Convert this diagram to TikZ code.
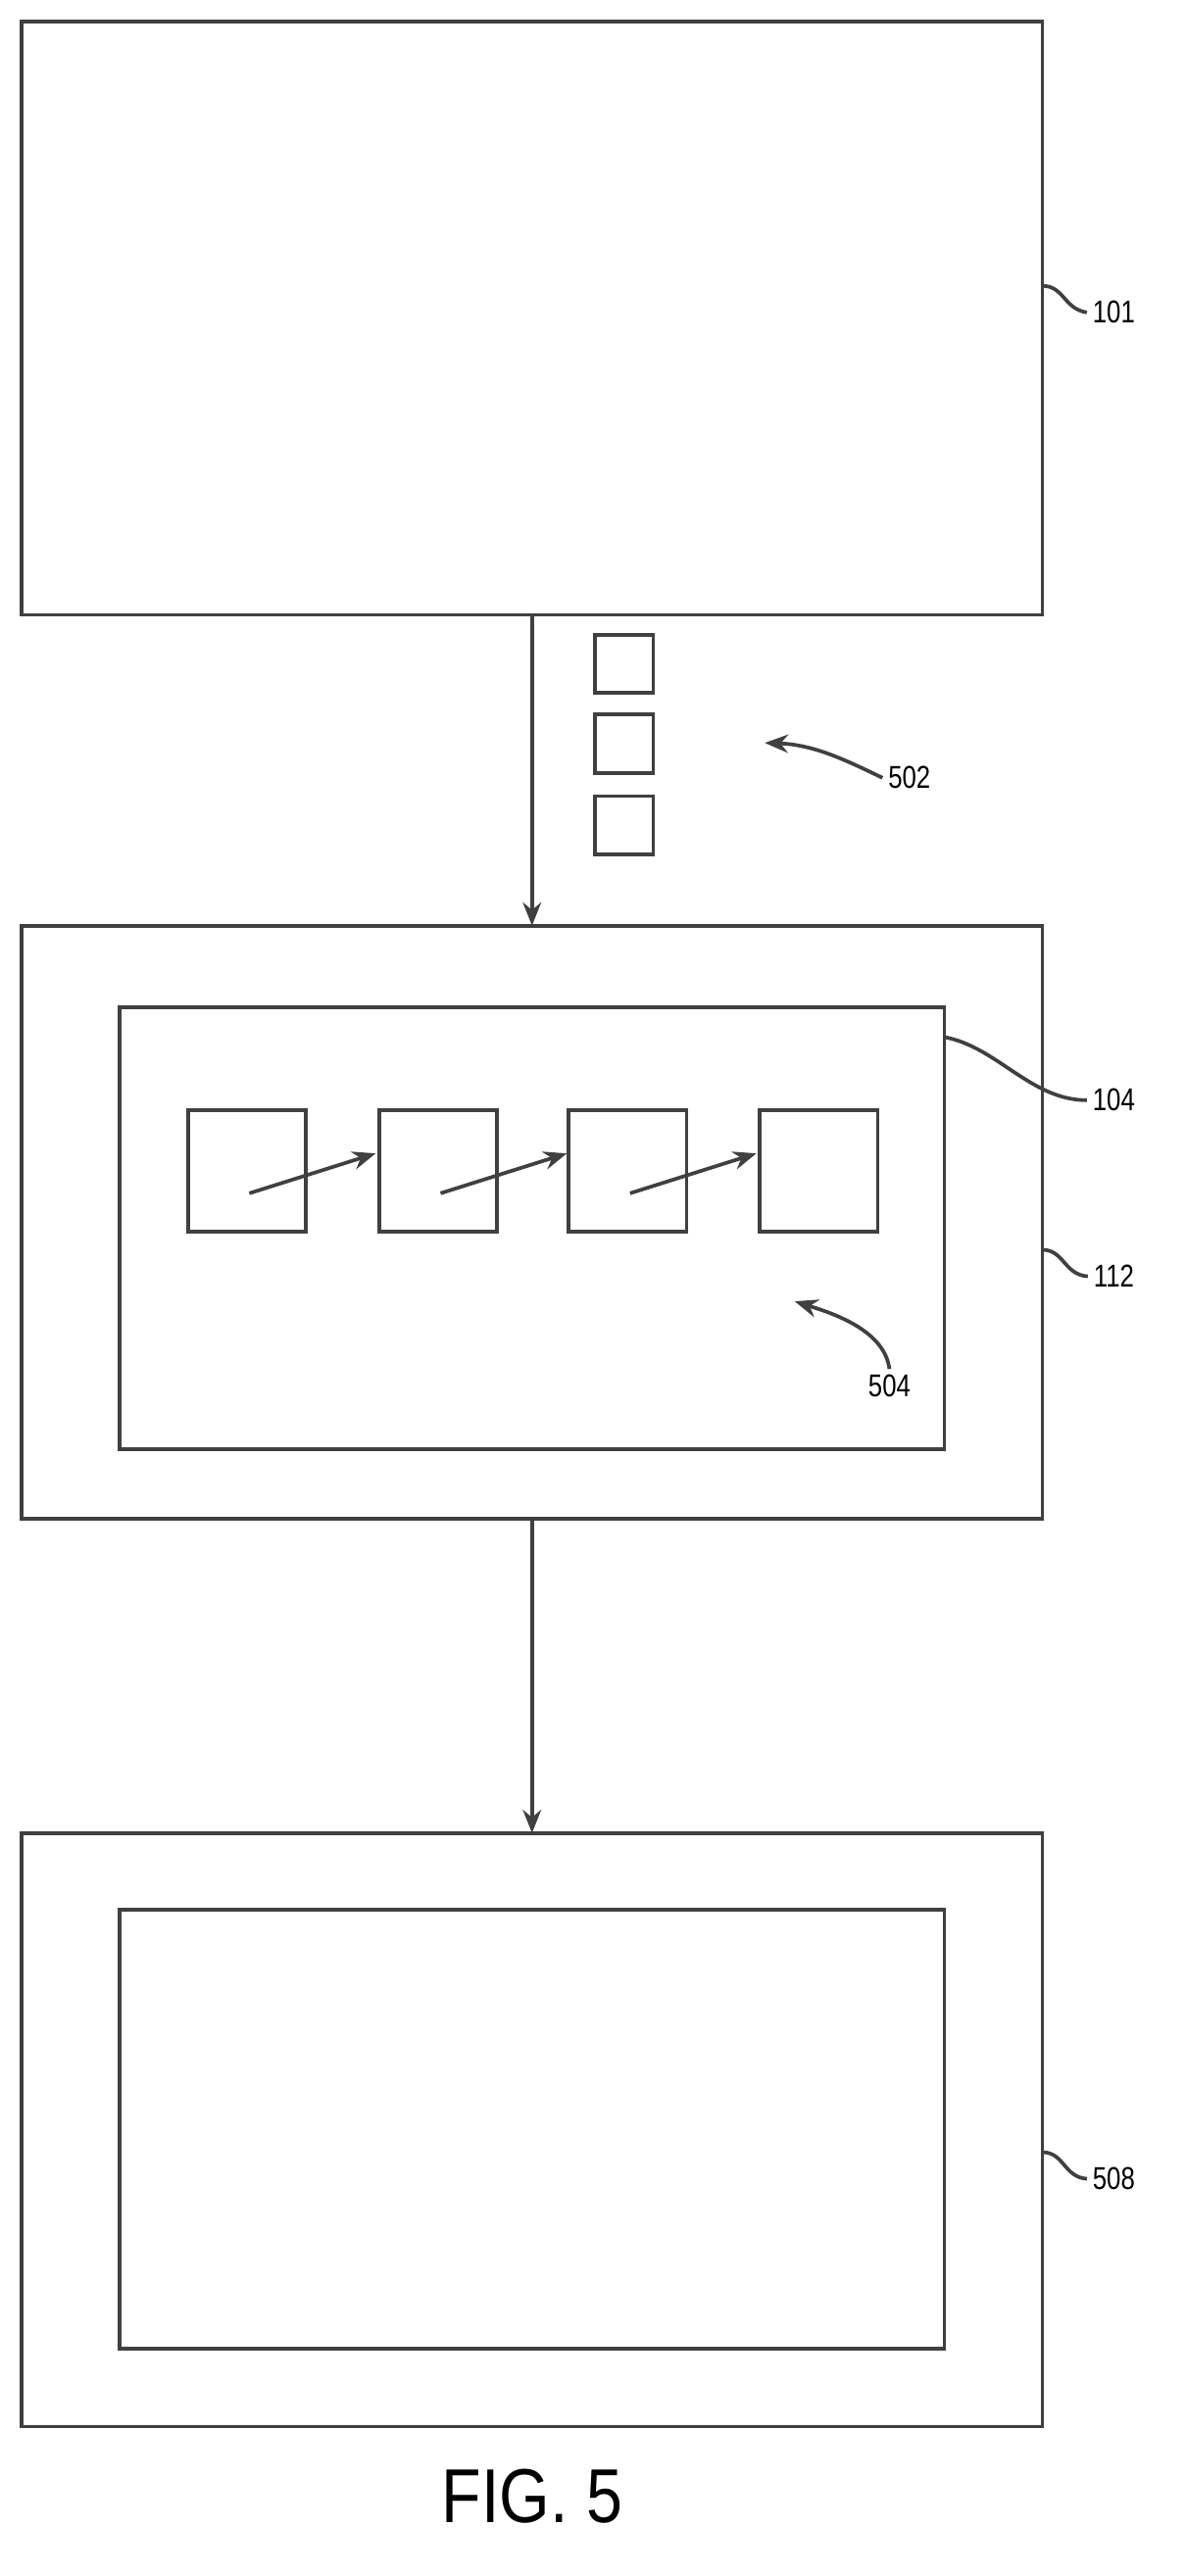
\documentclass[tikz,border=0pt]{standalone}
\usepackage{fontspec}
\setmainfont{Liberation Sans}
\usetikzlibrary{arrows.meta}
\begin{document}
\begin{tikzpicture}[x=1pt,y=-1pt,
  ln/.style={draw=black!75,line width=2.2pt},
  box/.style={ln,fill=none},
  arr/.style={ln,-{Stealth[length=14pt,width=11pt]}},
  lab/.style={font=\fontsize{19}{19}\selectfont\addfontfeature{FakeStretch=0.8}}]
\useasboundingbox (0,0) rectangle (713,1550);
% boxes
\draw[box] (13,13) rectangle (627,370);
\draw[box] (13,557) rectangle (627,914);
\draw[box] (72,606) rectangle (568,872);
\draw[box] (13,1103) rectangle (627,1460);
\draw[box] (72,1149) rectangle (568,1413);
\coordinate (a1) at (320,370); \coordinate (a2) at (320,557);
\coordinate (a3) at (320,914); \coordinate (a4) at (320,1103);
\draw[arr] (a1) -- (a2);
\draw[arr] (a3) -- (a4);
% small squares
\foreach \y in {382,430,479} \draw[box] (358,\y) rectangle (393,\y+35);
% chain squares
\foreach \x in {113,228,342,457}
  \draw[box] (\x,668) rectangle (\x+71,741);
\foreach \x in {150,265,379}
  \draw[arr] (\x,718) -- (\x+76,694);
% labels
\node[lab] (l101) at (670,188) {101};
\node[lab] (l502) at (547,468) {502};
\node[lab] (l104) at (670,662) {104};
\node[lab] (l112) at (670,768) {112};
\node[lab] (l504) at (535,834) {504};
\node[lab] (l508) at (670,1311) {508};
\draw[ln] (627,172) .. controls (640,172) and (640,186) .. (l101.west);
\draw[ln] (568,624) .. controls (600,630) and (620,662) .. (l104.west);
\draw[ln] (627,752) .. controls (640,752) and (640,767) .. (l112.west);
\draw[ln] (627,1295) .. controls (640,1295) and (640,1310) .. (l508.west);
\draw[arr] (l502.west) .. controls (510,458) and (490,448) .. (460,447);
\draw[arr] (l504.north) .. controls (532,800) and (500,790) .. (478,783);
\node[font=\fontsize{46}{46}\selectfont\addfontfeature{FakeStretch=0.85}] (fig) at (320,1502) {FIG. 5};
\end{tikzpicture}
\end{document}
